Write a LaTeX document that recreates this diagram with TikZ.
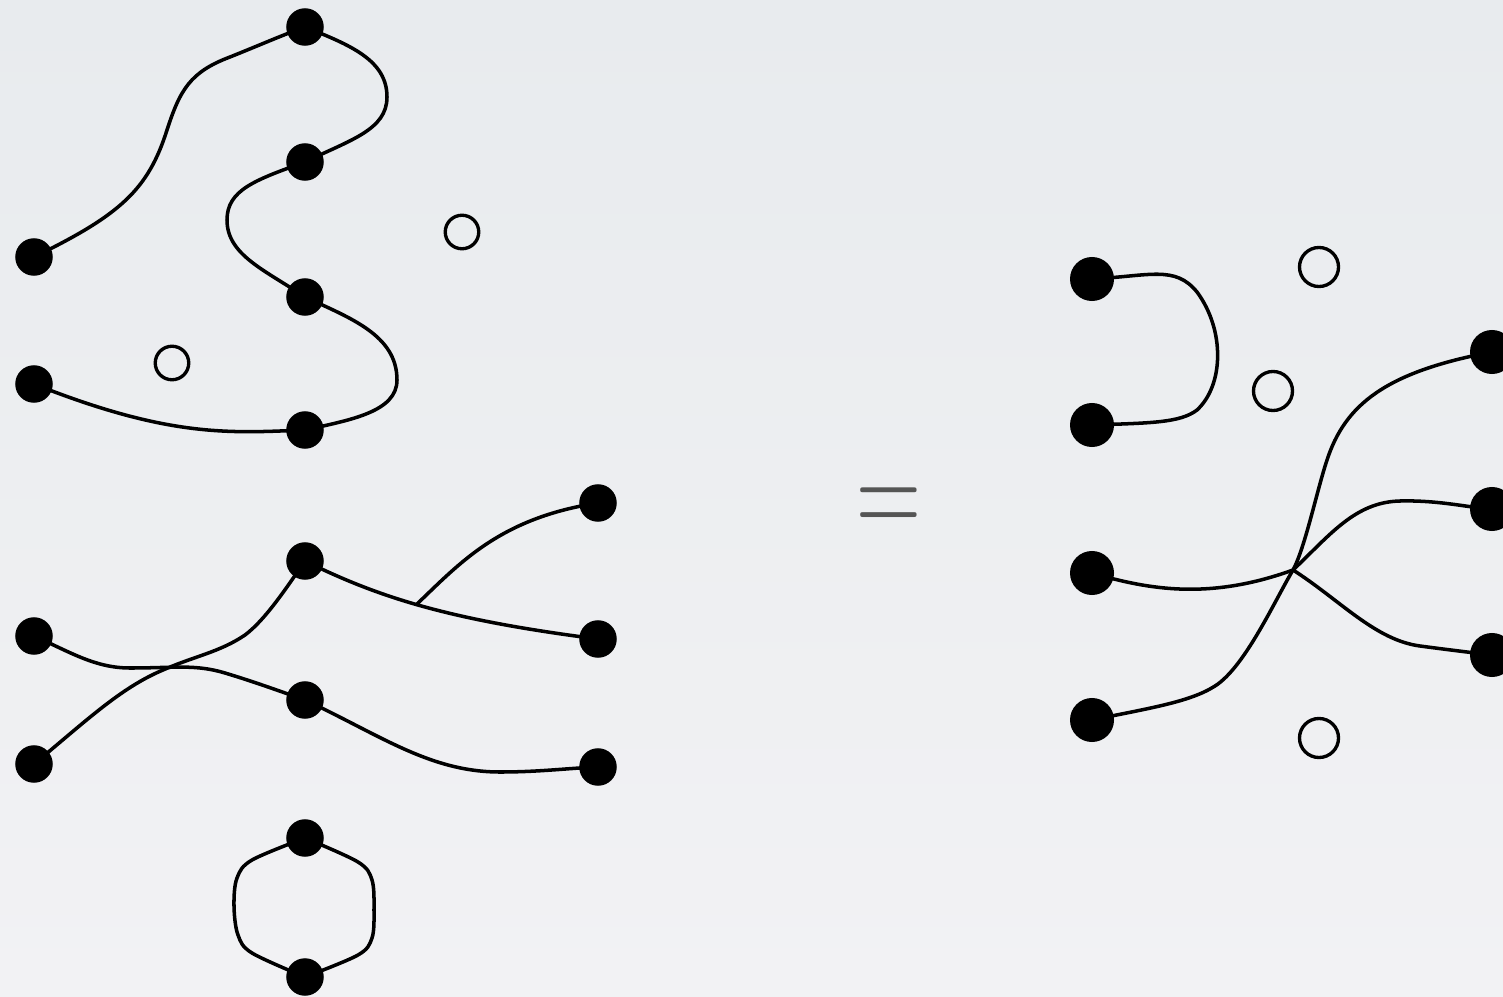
\documentclass[tikz,border=0pt]{standalone}
\usepackage{graphicx}
\definecolor{paperhi}{HTML}{E8EBEE}
\definecolor{paperlo}{HTML}{F2F2F4}
\definecolor{eqgray}{HTML}{555555}
\begin{document}
\begin{tikzpicture}[x=0.01cm,y=-0.01cm,
  dot/.style={circle,fill=black,inner sep=0pt,minimum size=0.375cm},
  bigdot/.style={circle,fill=black,inner sep=0pt,minimum size=0.44cm},
  hole/.style={circle,draw=black,line width=0.95pt,inner sep=0pt,minimum size=0.335cm},
  bighole/.style={circle,draw=black,line width=0.95pt,inner sep=0pt,minimum size=0.39cm},
  strand/.style={line width=1pt,line join=round,line cap=round},
  curve/.style={smooth,tension=0.55}]

% background
\shade[top color=paperhi,bottom color=paperlo] (0,0) rectangle (1503,997);
\useasboundingbox (0,0) rectangle (1503,997);

% ---------- left: upper chain ----------
\node[dot] (a1) at (34,257) {};
\node[dot] (a2) at (305,27) {};
\node[dot] (a3) at (305,162) {};
\node[dot] (a4) at (305,297) {};
\node[dot] (a5) at (305,430) {};
\node[dot] (a6) at (34,384) {};
\node[hole] (h1) at (462,232) {};
\node[hole] (h2) at (172,363) {};

\draw[strand] (a1.center)
     .. controls (120,215) and (148,190) .. (167,130)
     .. controls (180,90) and (190,72) .. (230,57)
     .. controls (260,45) and (285,34) .. (a2.center);
\draw[strand] (a2.center)
     .. controls (350,45) and (387,60) .. (387,97)
     .. controls (387,130) and (350,140) .. (a3.center);
\draw[strand] (a3.center)
     .. controls (255,180) and (227,190) .. (227,220)
     .. controls (227,255) and (265,270) .. (a4.center);
\draw[strand] (a4.center)
     .. controls (350,318) and (397,335) .. (397,380)
     .. controls (397,412) and (350,420) .. (a5.center);
\draw[strand] (a5.center)
     .. controls (230,433) and (170,438) .. (a6.center);

% ---------- left: middle tangle ----------
\node[dot] (b1) at (305,561) {};
\node[dot] (b2) at (305,700) {};
\node[dot] (b3) at (34,636) {};
\node[dot] (b4) at (34,764) {};
\node[dot] (b5) at (598,503) {};
\node[dot] (b6) at (598,639) {};
\node[dot] (b7) at (598,767) {};
\coordinate (j) at (417,604);

\draw[strand] (b3.center)
     .. controls (70,652) and (95,668) .. (130,668)
     .. controls (175,668) and (195,664) .. (225,673)
     .. controls (255,682) and (285,693) .. (b2.center);
\draw[strand] (b2.center)
     .. controls (380,735) and (430,772) .. (500,772)
     .. controls (540,772) and (570,768) .. (b7.center);
\draw[strand] (b4.center)
     .. controls (85,722) and (120,688) .. (163,670)
     .. controls (195,656) and (220,652) .. (245,635)
     .. controls (265,620) and (285,590) .. (b1.center);
\draw[strand] (b1.center)
     .. controls (380,598) and (450,620) .. (b6.center);
\draw[strand] (j) .. controls (460,563) and (500,518) .. (b5.center);

% ---------- left: closed loop ----------
\node[dot] (c1) at (305,838) {};
\node[dot] (c2) at (305,977) {};
\draw[strand] plot[curve] coordinates {(c1.center) (252,860) (237,878) (234,906)
  (238,935) (252,953) (c2.center)};
\draw[strand] plot[curve] coordinates {(c1.center) (358,862) (372,880) (374,910)
  (372,938) (358,955) (c2.center)};

% ---------- equals sign ----------
\node[text=eqgray,inner sep=0pt,anchor=base] (eq) at (889,537)
  {\fontsize{25.6}{30}\selectfont\scalebox{1}[1.55]{=}};

% ---------- right side ----------
\node[bigdot] (d1) at (1092,279) {};
\node[bigdot] (d2) at (1092,425) {};
\node[bigdot] (d3) at (1092,573) {};
\node[bigdot] (d4) at (1092,720) {};
\node[bigdot] (e1) at (1492,352) {};
\node[bigdot] (e2) at (1492,509) {};
\node[bigdot] (e3) at (1492,655) {};
\node[bighole] (k1) at (1319,267) {};
\node[bighole] (k2) at (1273,391) {};
\node[bighole] (k3) at (1319,738) {};
\coordinate (x) at (1293,570);

\draw[strand] (d1.center)
     .. controls (1150,276) and (1175,265) .. (1197,292)
     .. controls (1225,330) and (1224,385) .. (1197,410)
     .. controls (1180,423) and (1150,423) .. (d2.center);
\draw[strand] (d4.center)
     .. controls (1150,708) and (1190,702) .. (1215,686)
     .. controls (1245,667) and (1275,600) .. (x)
     .. controls (1305,548) and (1317,490) .. (1327,460)
     .. controls (1345,405) and (1385,372) .. (e1.center);
\draw[strand] (d3.center) .. controls (1150,590) and (1210,600) .. (x);
\draw[strand] (x)
     .. controls (1330,535) and (1355,502) .. (1400,501)
     .. controls (1440,500) and (1470,508) .. (e2.center);
\draw[strand] (x)
     .. controls (1340,600) and (1375,640) .. (1420,646)
     .. controls (1450,650) and (1475,653) .. (e3.center);
\end{tikzpicture}
\end{document}
